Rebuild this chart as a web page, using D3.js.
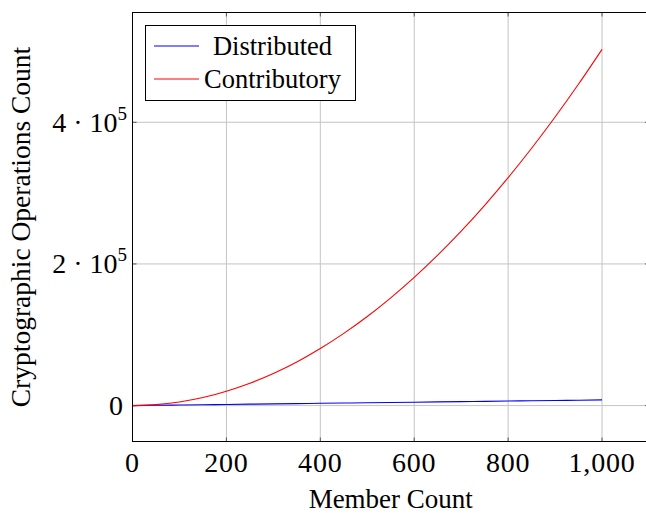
<!DOCTYPE html>
<html>
<head>
<meta charset="utf-8">
<script src="https://cdn.jsdelivr.net/npm/d3@7"></script>
<style>
  html, body { margin: 0; padding: 0; background: #fff; }
  svg { display: block; }
  text { font-family: "Liberation Serif", "Times New Roman", serif; fill: #000; }
</style>
</head>
<body>
<svg id="chart" width="646" height="513"></svg>
<script>
// Member counts sampled along the x axis
const memberCounts = [0, 50, 100, 150, 200, 250, 300, 350, 400, 450, 500,
                      550, 600, 650, 700, 750, 800, 850, 900, 950, 1000];
// Operation counts per scheme
const distributedOps = [0, 400, 800, 1200, 1600, 2000, 2400, 2800, 3200, 3600, 4000,
                        4400, 4800, 5200, 5600, 6000, 6400, 6800, 7200, 7600, 8000];
const contributoryOps = [0, 1300, 5100, 11300, 20200, 31500, 45300, 61600, 80500, 101900, 125700,
                         152100, 181000, 212400, 246300, 282800, 321800, 363300, 407400, 454000, 503000];
const seriesNames = ["Distributed", "Contributory"];
const seriesColors = ["#0000ff", "#ff0000"];
const xTicks = [0, 200, 400, 600, 800, 1000];
const yTicks = [0, 200000, 400000];
const yTickLabels = ["0", "2 · 10^5", "4 · 10^5"];

const svg = d3.select("#chart");
const margin = { left: 132.5, right: 649, top: 12.5, bottom: 441.5 };

const x = d3.scaleLinear().domain([0, 1100]).range([margin.left, margin.right]);
const y = d3.scaleLinear().domain([-50700, 555000]).range([margin.bottom, margin.top]);

const gridColor = "#c4c4c4";
const tickLen = 4;

// grid lines
const grid = svg.append("g");
grid.selectAll(".gx").data(xTicks).join("line")
  .attr("x1", d => x(d)).attr("x2", d => x(d))
  .attr("y1", margin.top).attr("y2", margin.bottom)
  .attr("stroke", gridColor).attr("stroke-width", 1);
grid.selectAll(".gy").data(yTicks).join("line")
  .attr("x1", margin.left).attr("x2", margin.right)
  .attr("y1", d => y(d)).attr("y2", d => y(d))
  .attr("stroke", gridColor).attr("stroke-width", 1);

// inward tick marks on all four sides
const ticks = svg.append("g").attr("stroke", "#555").attr("stroke-width", 1);
xTicks.forEach(d => {
  ticks.append("line").attr("x1", x(d)).attr("x2", x(d))
    .attr("y1", margin.bottom).attr("y2", margin.bottom - tickLen);
  ticks.append("line").attr("x1", x(d)).attr("x2", x(d))
    .attr("y1", margin.top).attr("y2", margin.top + tickLen);
});
yTicks.forEach(d => {
  ticks.append("line").attr("y1", y(d)).attr("y2", y(d))
    .attr("x1", margin.left).attr("x2", margin.left + tickLen);
  ticks.append("line").attr("y1", y(d)).attr("y2", y(d))
    .attr("x1", margin.right).attr("x2", margin.right - tickLen);
});

// series lines
const seriesData = [distributedOps, contributoryOps];
const line = d3.line()
  .x((d, i) => x(memberCounts[i]))
  .y(d => y(d))
  .curve(d3.curveMonotoneX);
svg.append("g").selectAll("path").data(seriesData).join("path")
  .attr("d", line)
  .attr("fill", "none")
  .attr("stroke", (d, i) => seriesColors[i])
  .attr("stroke-width", 1.1);

// axis frame
svg.append("rect")
  .attr("x", margin.left).attr("y", margin.top)
  .attr("width", margin.right - margin.left).attr("height", margin.bottom - margin.top)
  .attr("fill", "none").attr("stroke", "#000").attr("stroke-width", 1);

// x tick labels
const fmt = d3.format(",");
svg.append("g").selectAll("text").data(xTicks).join("text")
  .attr("x", d => x(d)).attr("y", 472)
  .attr("text-anchor", "middle")
  .attr("font-size", 28)
  .attr("letter-spacing", 0.8)
  .text(d => fmt(d));

// y tick labels with superscript exponents
const yl = svg.append("g");
yTicks.forEach((d, i) => {
  const parts = yTickLabels[i].split("^");
  const t = yl.append("text")
    .attr("x", parts[1] ? 127 : 123).attr("y", y(d) + 9.5)
    .attr("text-anchor", "end")
    .attr("font-size", 28);
  t.append("tspan").text(parts[0]);
  if (parts[1]) {
    t.append("tspan").attr("font-size", 19).attr("dy", -12).text(parts[1]);
  }
});

// axis titles
svg.append("text")
  .attr("x", (margin.left + margin.right) / 2).attr("y", 508)
  .attr("text-anchor", "middle").attr("font-size", 27)
  .text("Member Count");
svg.append("text")
  .attr("transform", `translate(30,${(margin.top + margin.bottom) / 2}) rotate(-90)`)
  .attr("text-anchor", "middle").attr("font-size", 27.5)
  .text("Cryptographic Operations Count");

// legend
const lg = svg.append("g");
lg.append("rect").attr("x", 145.5).attr("y", 25.5).attr("width", 210).attr("height", 75)
  .attr("fill", "#fff").attr("stroke", "#000").attr("stroke-width", 1);
seriesNames.forEach((name, i) => {
  const cy = 46 + i * 33;
  lg.append("line").attr("x1", 154).attr("x2", 199).attr("y1", cy).attr("y2", cy)
    .attr("stroke", seriesColors[i]).attr("stroke-width", 1.1);
  lg.append("text").attr("x", 272.5).attr("y", cy + 9)
    .attr("text-anchor", "middle").attr("font-size", 26.5)
    .text(name);
});
</script>
</body>
</html>
